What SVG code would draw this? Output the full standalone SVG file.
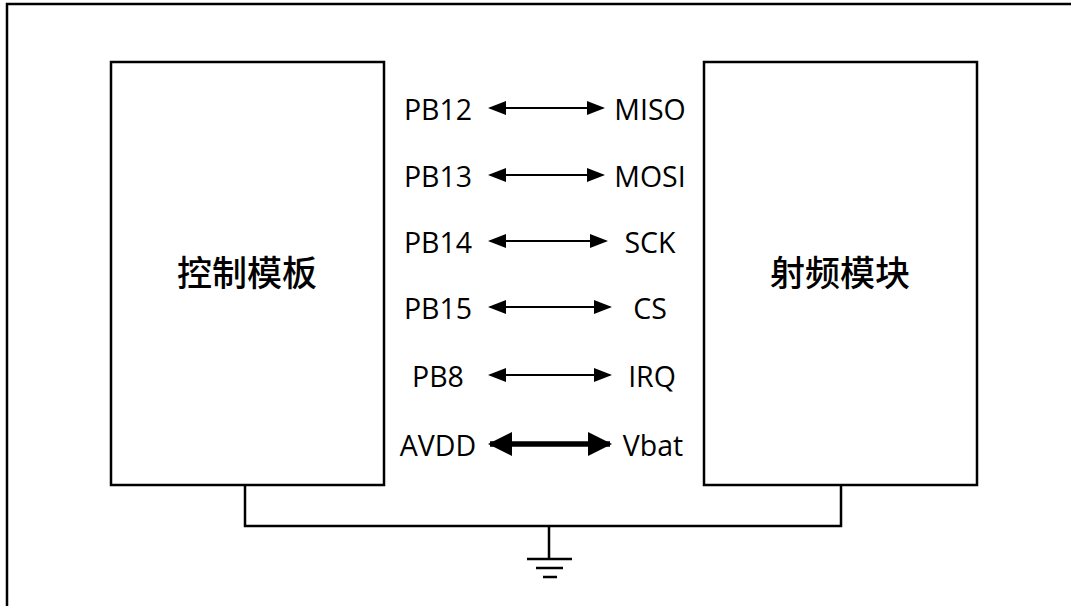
<svg xmlns="http://www.w3.org/2000/svg" width="1071" height="606" viewBox="0 0 1071 606">
<style>
.box{fill:#fff;stroke:#000;stroke-width:2.5}
.wire{fill:none;stroke:#000;stroke-width:2.5}
.lbl{font-family:"Open Sans","Liberation Sans",sans-serif;font-size:28.5px;fill:#000;text-anchor:middle}
.cjk{font-family:"Noto Sans CJK SC","Liberation Sans",sans-serif;font-size:35px;font-weight:500;fill:#000;text-anchor:middle}
.sig{stroke:#000;stroke-width:2;marker-start:url(#ah);marker-end:url(#ah)}
.pwr{stroke:#000;stroke-width:5.5;marker-start:url(#ahb);marker-end:url(#ahb)}
</style>
<defs>
<marker id="ah" markerUnits="userSpaceOnUse" markerWidth="18" markerHeight="14" viewBox="0 0 18 14" refX="16" refY="7" orient="auto-start-reverse"><path d="M0,0 L18,7 L0,14 z" fill="#000"/></marker>
<marker id="ahb" markerUnits="userSpaceOnUse" markerWidth="24" markerHeight="24" viewBox="0 0 24 24" refX="22" refY="12" orient="auto-start-reverse"><path d="M0,0 L24,12 L0,24 z" fill="#000"/></marker>
</defs>
<rect width="1071" height="606" fill="#fff"/>
<path class="wire" d="M7,612 V4 H1075"/>
<g id="ctrl">
<rect class="box" x="111" y="62" width="273" height="423"/>
<text class="cjk" x="247" y="286">控制模板</text>
</g>
<g id="rf">
<rect class="box" x="704" y="62" width="273" height="423"/>
<text class="cjk" x="840" y="286">射频模块</text>
</g>
<g id="labels">
<text class="lbl" x="438" y="120">PB12</text>
<text class="lbl" x="650" y="120">MISO</text>
<text class="lbl" x="438" y="187">PB13</text>
<text class="lbl" x="650" y="187">MOSI</text>
<text class="lbl" x="438" y="253">PB14</text>
<text class="lbl" x="650" y="253">SCK</text>
<text class="lbl" x="438" y="319">PB15</text>
<text class="lbl" x="650" y="319">CS</text>
<text class="lbl" x="438" y="387">PB8</text>
<text class="lbl" x="652" y="387">IRQ</text>
<text class="lbl" x="438" y="456">AVDD</text>
<text class="lbl" x="653" y="456">Vbat</text>
</g>
<g id="connectors">
<line class="sig" x1="490" y1="108" x2="603" y2="108"/>
<line class="sig" x1="490" y1="175" x2="603" y2="175"/>
<line class="sig" x1="490" y1="241" x2="606" y2="241"/>
<line class="sig" x1="490" y1="307" x2="610" y2="307"/>
<line class="sig" x1="490" y1="375" x2="610" y2="375"/>
<line class="pwr" x1="490" y1="444" x2="610" y2="444"/>
<path class="wire" d="M245,485 V526 H841 V485 M549,526 V559"/>
</g>
<g id="ground">
<line class="wire" x1="527" y1="559" x2="572" y2="559" stroke-width="3"/>
<line class="wire" x1="536" y1="568" x2="563" y2="568" stroke-width="3"/>
<line class="wire" x1="543" y1="577" x2="557" y2="577" stroke-width="3"/>
</g>
</svg>
